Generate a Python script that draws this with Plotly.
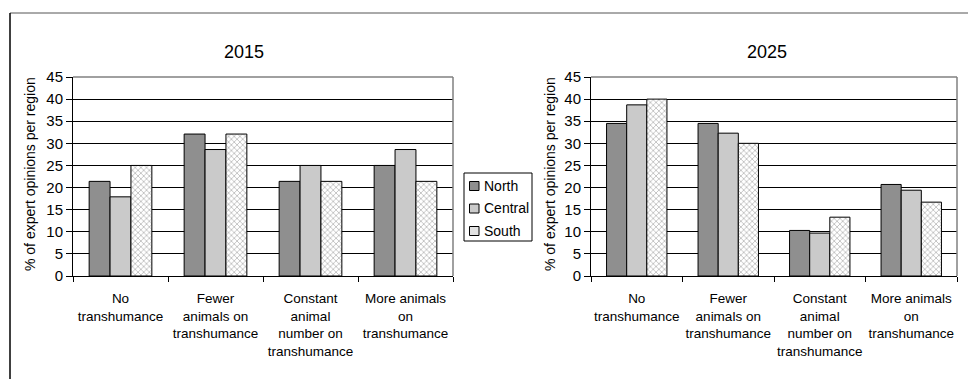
import plotly.graph_objects as go

categories = ["No<br>transhumance", "Fewer<br>animals on<br>transhumance",
              "Constant<br>animal<br>number on<br>transhumance",
              "More animals<br>on<br>transhumance"]
regions = ["North", "Central", "South"]
values_2015 = {
    "North": [21.4, 32.1, 21.4, 25.0],
    "Central": [17.9, 28.6, 25.0, 28.6],
    "South": [25.0, 32.1, 21.4, 21.4],
}
values_2025 = {
    "North": [34.5, 34.5, 10.3, 20.7],
    "Central": [38.7, 32.3, 9.7, 19.4],
    "South": [40.0, 30.0, 13.3, 16.7],
}
titles = ["2015", "2025"]
y_title = "% of expert opinions per region"
y_ticks = [0, 5, 10, 15, 20, 25, 30, 35, 40, 45]

W, H = 968, 379
FONT = "Liberation Sans, Arial, sans-serif"

fills = {"North": "#8f8f8f", "Central": "#cacaca", "South": "white"}
styles = {
    "North": dict(color=fills["North"]),
    "Central": dict(color=fills["Central"]),
    "South": dict(color=fills["South"],
                  pattern=dict(shape="x", fgcolor="#6e6e6e", size=4, solidity=0.35)),
}

fig = go.Figure()
for i, data in enumerate([values_2015, values_2025]):
    xa = "x" if i == 0 else "x2"
    ya = "y" if i == 0 else "y2"
    for r in regions:
        fig.add_trace(go.Bar(
            x=categories, y=data[r], name=r, xaxis=xa, yaxis=ya,
            marker=dict(line=dict(color="black", width=1), **styles[r]),
            showlegend=False,
        ))

def px_x(p):
    return p / W

def px_y(p):
    return (H - p) / H

dom1 = [px_x(73), px_x(453)]
dom2 = [px_x(591), px_x(957)]
ydom = [px_y(276), px_y(77)]

xcommon = dict(type="category", showline=True, linecolor="black", linewidth=1,
               ticks="outside", tickson="boundaries", ticklen=5, tickcolor="black",
               tickfont=dict(family=FONT, size=13.5, color="black"),
               ticklabelstandoff=10,
               showgrid=False, automargin=False, tickangle=0)
ycommon = dict(range=[0, 45], tickvals=y_ticks, showline=True, linecolor="black",
               linewidth=1, ticks="outside", ticklen=6, tickcolor="black",
               showgrid=True, gridcolor="black", gridwidth=1,
               tickfont=dict(family=FONT, size=15, color="black"),
               automargin=False, zeroline=False)

annotations = [
    dict(text=titles[0], x=px_x(244), y=px_y(52), xanchor="center", yanchor="middle",
         xref="paper", yref="paper", showarrow=False,
         font=dict(family=FONT, size=18, color="black")),
    dict(text=titles[1], x=px_x(767), y=px_y(52), xanchor="center", yanchor="middle",
         xref="paper", yref="paper", showarrow=False,
         font=dict(family=FONT, size=18, color="black")),
    dict(text=y_title, x=px_x(30), y=px_y(174), xanchor="center", yanchor="middle",
         xref="paper", yref="paper", textangle=-90, showarrow=False,
         font=dict(family=FONT, size=14, color="black")),
    dict(text=y_title, x=px_x(550), y=px_y(174), xanchor="center", yanchor="middle",
         xref="paper", yref="paper", textangle=-90, showarrow=False,
         font=dict(family=FONT, size=14, color="black")),
]

shapes = [
    # outer frame (top and left)
    dict(type="line", xref="paper", yref="paper", x0=px_x(10), x1=1.0,
         y0=px_y(13), y1=px_y(13), line=dict(color="#555555", width=1)),
    dict(type="line", xref="paper", yref="paper", x0=px_x(10), x1=px_x(10),
         y0=px_y(13), y1=0, line=dict(color="black", width=1.5)),
]
# plot area border top/right (gray)
for d in (dom1, dom2):
    shapes.append(dict(type="line", xref="paper", yref="paper", x0=d[0], x1=d[1],
                       y0=ydom[1], y1=ydom[1], line=dict(color="#808080", width=1.5),
                       layer="above"))
    shapes.append(dict(type="line", xref="paper", yref="paper", x0=d[1], x1=d[1],
                       y0=ydom[0], y1=ydom[1], line=dict(color="#808080", width=1.5),
                       layer="above"))

# legend box built from shapes + text
shapes.append(dict(type="rect", xref="paper", yref="paper",
                   x0=px_x(464), x1=px_x(532), y0=px_y(241), y1=px_y(173),
                   line=dict(color="black", width=1), fillcolor="white"))
row_y = [186, 208.5, 231]
for r, yy in zip(regions, row_y):
    shapes.append(dict(type="rect", xref="paper", yref="paper",
                       x0=px_x(469.5), x1=px_x(479), y0=px_y(yy + 4.5), y1=px_y(yy - 4.5),
                       line=dict(color="black", width=1),
                       fillcolor=fills[r] if r != "South" else "#e2e2e2"))
    annotations.append(dict(text=r, x=px_x(482), y=px_y(yy), xanchor="left",
                            yanchor="middle", xref="paper", yref="paper",
                            showarrow=False,
                            font=dict(family=FONT, size=14, color="black")))

fig.update_layout(
    width=W, height=H,
    margin=dict(l=0, r=0, t=0, b=0),
    paper_bgcolor="white", plot_bgcolor="white",
    barmode="group", bargap=0.34, bargroupgap=0,
    font=dict(family=FONT, color="black"),
    showlegend=False,
    xaxis=dict(domain=dom1, anchor="y", **xcommon),
    xaxis2=dict(domain=dom2, anchor="y2", **xcommon),
    yaxis=dict(domain=ydom, anchor="x", **ycommon),
    yaxis2=dict(domain=ydom, anchor="x2", **ycommon),
    annotations=annotations,
    shapes=shapes,
)

fig.write_html("out.html", config={"displayModeBar": False},
               post_script="document.body.style.margin='0px';")
